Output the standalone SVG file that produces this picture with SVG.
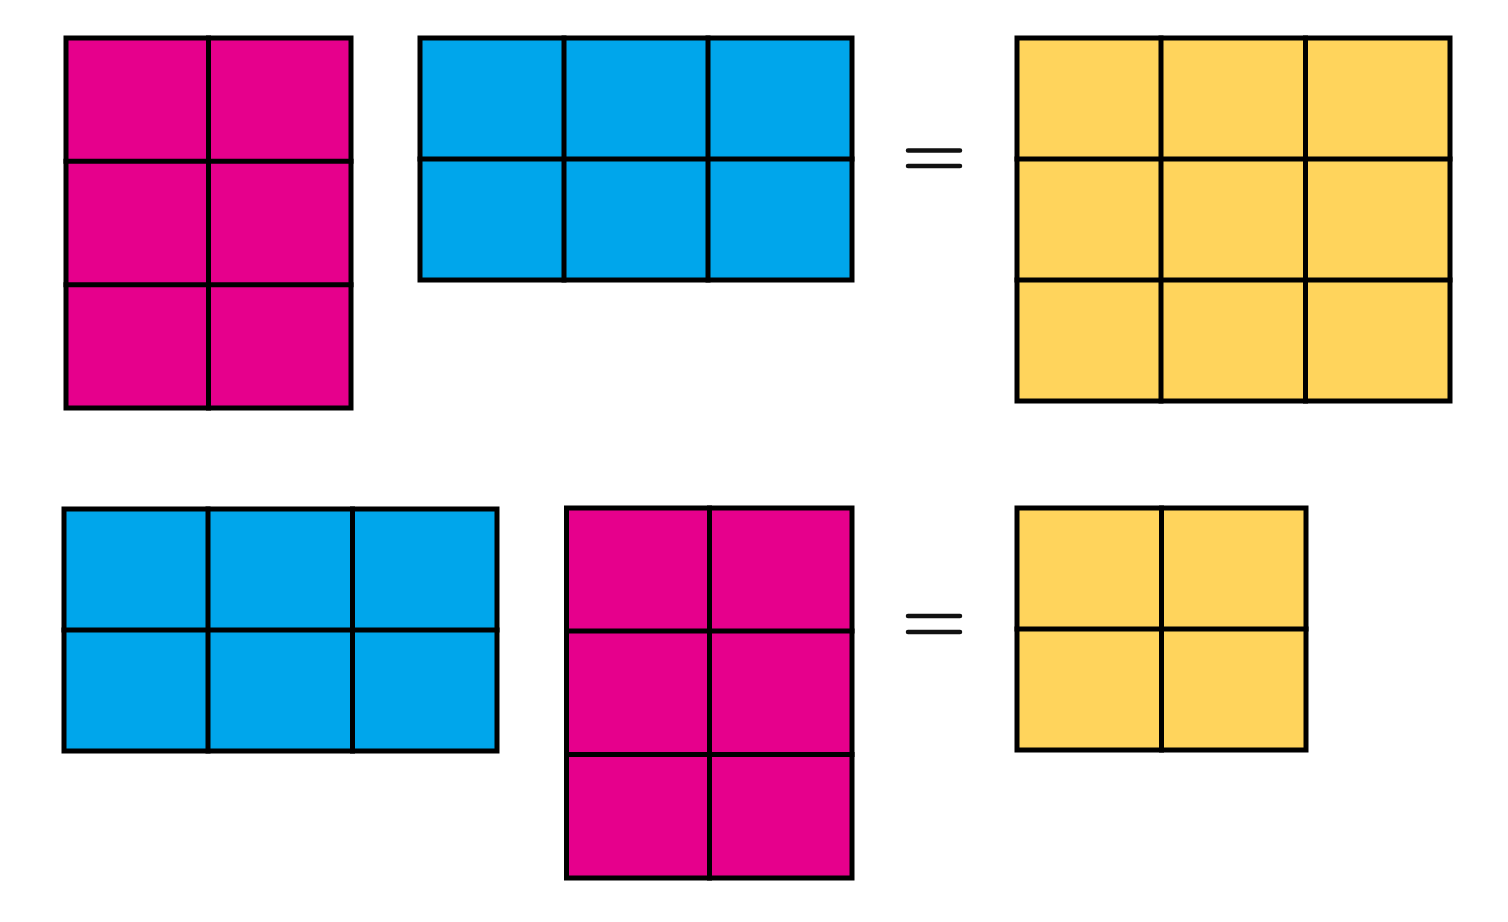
<svg xmlns="http://www.w3.org/2000/svg" width="1508" height="922" viewBox="0 0 1508 922">
<style>
.g{stroke:#000;stroke-width:5;stroke-linecap:square}
.m{fill:#E6008C}
.b{fill:#00A6EB}
.y{fill:#FFD45C}
.eq{stroke:#111;stroke-width:4.5;stroke-linecap:round}
</style>
<rect width="1508" height="922" fill="#fff"/>
<g id="magenta-top">
<rect class="m g" x="66" y="38" width="285" height="370"/>
<path class="g" d="M208.5 38V408M66 161.3H351M66 284.7H351"/>
</g>
<g id="blue-top">
<rect class="b g" x="420" y="38" width="432" height="242"/>
<path class="g" d="M564 38V280M708 38V280M420 159H852"/>
</g>
<g id="equals-top">
<path class="eq" d="M908 150.5H960M908 166H960"/>
</g>
<g id="yellow-top">
<rect class="y g" x="1017" y="38" width="433" height="363"/>
<path class="g" d="M1161 38V401M1305.5 38V401M1017 159H1450M1017 280H1450"/>
</g>
<g id="blue-bottom">
<rect class="b g" x="64" y="509" width="433" height="242"/>
<path class="g" d="M208 509V751M352.5 509V751M64 630H497"/>
</g>
<g id="magenta-bottom">
<rect class="m g" x="566.5" y="508" width="285.5" height="370"/>
<path class="g" d="M709.5 508V878M566.5 631H852M566.5 754.5H852"/>
</g>
<g id="equals-bottom">
<path class="eq" d="M908 616H960M908 632H960"/>
</g>
<g id="yellow-bottom">
<rect class="y g" x="1017" y="508" width="289" height="242"/>
<path class="g" d="M1161.5 508V750M1017 629H1306"/>
</g>
<g id="connectors"></g>
</svg>
